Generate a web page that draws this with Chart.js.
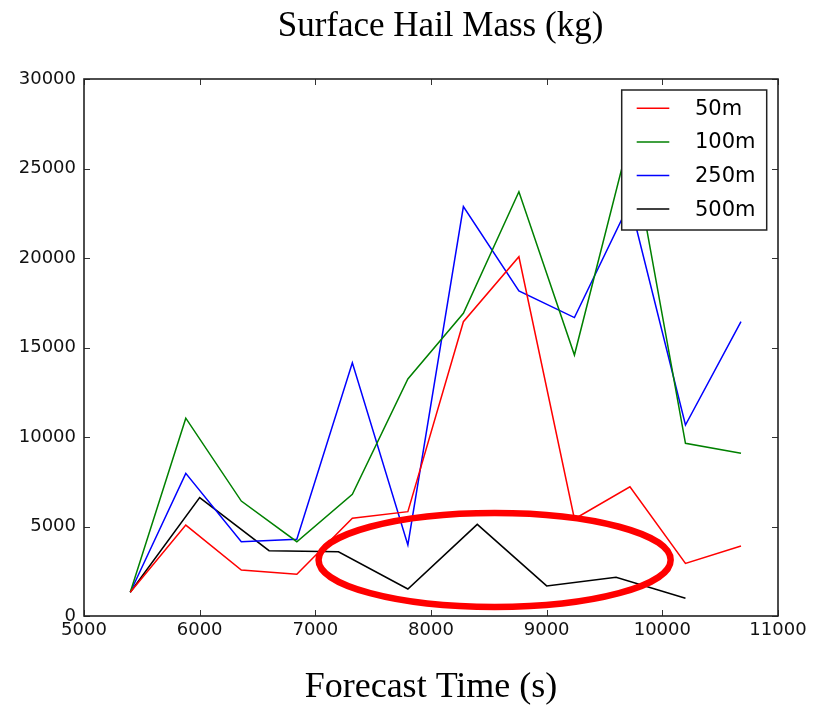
<!DOCTYPE html>
<html><head><meta charset="utf-8">
<script src="https://cdn.jsdelivr.net/npm/chart.js@4.4.0/dist/chart.umd.min.js"></script>
<style>html,body{margin:0;padding:0;background:#fff;}#wrap{width:825px;height:707px;}</style>
</head><body><div id="wrap"><canvas id="c" width="825" height="707"></canvas></div>
<script>
// ---- data ----
const chartTitle = 'Surface Hail Mass (kg)';
const xAxisTitle = 'Forecast Time (s)';
const seriesLabels = ['50m', '100m', '250m', '500m'];
const seriesColors = ['#ff0000', '#008000', '#0000ff', '#000000'];
const timesFine = [5400, 5880, 6360, 6840, 7320, 7800, 8280, 8760, 9240, 9720, 10200, 10680];
const timesCoarse = [5400, 6000, 6600, 7200, 7800, 8400, 9000, 9600, 10200];
const mass50m = [1330, 5080, 2570, 2330, 5460, 5830, 16440, 20070, 5420, 7220, 2940, 3910];
const mass100m = [1330, 11050, 6420, 4150, 6800, 13240, 16910, 23700, 14580, 26800, 9650, 9090];
const mass250m = [1330, 7970, 4150, 4290, 14150, 3970, 22870, 18160, 16670, 23100, 10670, 16440];
const mass500m = [1330, 6610, 3650, 3590, 1510, 5120, 1680, 2160, 990];
const xTickValues = [5000, 6000, 7000, 8000, 9000, 10000, 11000];
const yTickValues = [0, 5000, 10000, 15000, 20000, 25000, 30000];
// highlight ellipse (data units): centre time, centre mass, half-width (s), half-height (kg)
const highlight = {cx: 8550, cy: 3130, rx: 1522, ry: 2626};

const seriesX = [timesFine, timesFine, timesFine, timesCoarse];
const seriesY = [mass50m, mass100m, mass250m, mass500m];

const datasets = seriesLabels.map((lab, i) => ({
  label: lab,
  data: seriesX[i].map((x, j) => ({x: x, y: seriesY[i][j]})),
  borderColor: seriesColors[i],
  backgroundColor: seriesColors[i],
  borderWidth: 1.5,
  pointRadius: 0,
  showLine: true,
  fill: false,
  tension: 0
}));

const titlePlugin = {
  id: 'topTitle',
  afterDraw(chart) {
    const ctx = chart.ctx;
    ctx.save();
    ctx.font = '35px "Liberation Serif"';
    ctx.fillStyle = '#000';
    ctx.textAlign = 'center';
    ctx.textBaseline = 'alphabetic';
    ctx.fillText(chartTitle, 440.5, 36);
    ctx.restore();
  }
};

const frameTicks = {
  id: 'frameTicks',
  afterDatasetsDraw(chart) {
    const ctx = chart.ctx, a = chart.chartArea;
    const xs = chart.scales.x, ys = chart.scales.y;
    const len = 6;
    ctx.save();
    ctx.strokeStyle = '#333';
    ctx.lineWidth = 1;
    ctx.beginPath();
    xTickValues.forEach(v => {
      const p = Math.round(xs.getPixelForValue(v)) + 0.5;
      ctx.moveTo(p, a.bottom); ctx.lineTo(p, a.bottom - len);
      ctx.moveTo(p, a.top); ctx.lineTo(p, a.top + len);
    });
    yTickValues.forEach(v => {
      const p = Math.round(ys.getPixelForValue(v)) + 0.5;
      ctx.moveTo(a.left, p); ctx.lineTo(a.left + len, p);
      ctx.moveTo(a.right, p); ctx.lineTo(a.right - len, p);
    });
    ctx.stroke();
    ctx.strokeStyle = '#222';
    ctx.lineWidth = 1.6;
    ctx.strokeRect(a.left, a.top, a.right - a.left, a.bottom - a.top);
    ctx.restore();
  }
};

const ellipsePlugin = {
  id: 'highlightEllipse',
  afterDatasetsDraw(chart) {
    const ctx = chart.ctx;
    const xs = chart.scales.x, ys = chart.scales.y;
    const cx = xs.getPixelForValue(highlight.cx);
    const cy = ys.getPixelForValue(highlight.cy);
    const rx = Math.abs(xs.getPixelForValue(highlight.cx + highlight.rx) - cx);
    const ry = Math.abs(ys.getPixelForValue(highlight.cy + highlight.ry) - cy);
    ctx.save();
    ctx.strokeStyle = '#ff0000';
    ctx.lineWidth = 6.5;
    ctx.beginPath();
    ctx.ellipse(cx, cy, rx, ry, 0, 0, Math.PI * 2);
    ctx.stroke();
    ctx.restore();
  }
};

const legendPlugin = {
  id: 'boxLegend',
  afterDatasetsDraw(chart) {
    const ctx = chart.ctx, a = chart.chartArea;
    const w = 145, h = 140;
    const right = a.right - 11.3, top = a.top + 11;
    const left = right - w;
    ctx.save();
    ctx.fillStyle = '#fff';
    ctx.fillRect(left, top, w, h);
    ctx.strokeStyle = '#222';
    ctx.lineWidth = 1.5;
    ctx.strokeRect(left, top, w, h);
    ctx.font = '21px "DejaVu Sans"';
    ctx.textBaseline = 'middle';
    ctx.textAlign = 'left';
    chart.data.datasets.forEach((ds, i) => {
      const y = top + 18.3 + i * 33.6;
      ctx.strokeStyle = ds.borderColor;
      ctx.lineWidth = 1.5;
      ctx.beginPath();
      ctx.moveTo(left + 15, y); ctx.lineTo(left + 47.6, y);
      ctx.stroke();
      ctx.fillStyle = '#000';
      ctx.fillText(ds.label, left + 73.3, y + 1);
    });
    ctx.restore();
  }
};

new Chart(document.getElementById('c'), {
  type: 'scatter',
  data: {datasets: datasets},
  options: {
    responsive: false,
    animation: false,
    devicePixelRatio: 1,
    layout: {padding: {left: 0, right: 47, top: 79, bottom: 0}},
    plugins: {
      legend: {display: false},
      title: {display: false},
      tooltip: {enabled: false}
    },
    scales: {
      x: {
        type: 'linear',
        min: 5000, max: 11000,
        afterBuildTicks: s => { s.ticks = xTickValues.map(v => ({value: v})); },
        afterFit: s => { s.height = 91; },
        grid: {display: false, drawTicks: false, tickLength: 0},
        border: {display: false},
        ticks: {
          color: '#111', padding: 4, maxRotation: 0, autoSkip: false,
          font: {family: 'DejaVu Sans', size: 18},
          callback: v => String(v)
        },
        title: {
          display: true, text: xAxisTitle, color: '#000',
          font: {family: 'Liberation Serif', size: 36, lineHeight: 1},
          padding: {top: 0, bottom: 1}
        }
      },
      y: {
        type: 'linear',
        min: 0, max: 30000,
        afterBuildTicks: s => { s.ticks = yTickValues.map(v => ({value: v})); },
        afterFit: s => { s.width = 84; },
        grid: {display: false, drawTicks: false, tickLength: 0},
        border: {display: false},
        ticks: {
          color: '#111', padding: 8,
          font: {family: 'DejaVu Sans', size: 18},
          callback: v => String(v)
        }
      }
    }
  },
  plugins: [frameTicks, ellipsePlugin, legendPlugin, titlePlugin]
});
</script></body></html>
